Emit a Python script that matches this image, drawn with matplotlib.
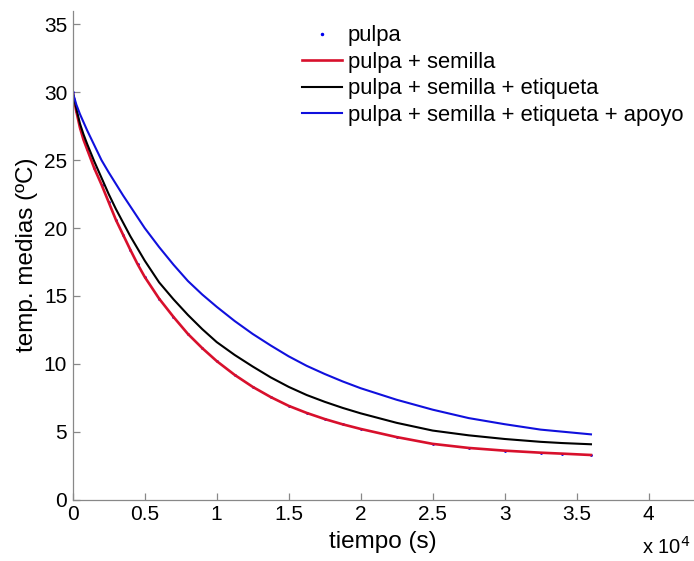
import matplotlib
matplotlib.use("Agg")
import matplotlib.pyplot as plt
from matplotlib.ticker import FixedLocator, FixedFormatter

# tiempo (s) and mean temperatures (ºC)
tiempo = [0, 250, 500, 750, 1000, 1500, 2000, 2500, 3000, 3500, 4000, 4500,
          5000, 6000, 7000, 8000, 9000, 10000, 11250, 12500, 13750, 15000,
          16250, 17500, 18750, 20000, 22500, 25000, 27500, 30000, 32500,
          34000, 36000]
pulpa = [30.0, 28.6, 27.4, 26.5, 25.8, 24.4, 23.2, 21.9, 20.6, 19.5, 18.4, 17.35,
         16.4, 14.8, 13.45, 12.2, 11.15, 10.2, 9.18, 8.3, 7.55, 6.9,
         6.38, 5.93, 5.54, 5.2, 4.6, 4.1, 3.8, 3.6, 3.45,
         3.38, 3.28]
pulpa_semilla = [30.0, 28.6, 27.4, 26.5, 25.8, 24.4, 23.2, 21.9, 20.6, 19.5, 18.4, 17.35,
                 16.4, 14.8, 13.45, 12.2, 11.15, 10.2, 9.18, 8.3, 7.55, 6.9,
                 6.38, 5.93, 5.54, 5.2, 4.6, 4.1, 3.8, 3.6, 3.45,
                 3.38, 3.28]
pulpa_semilla_etiqueta = [30.0, 28.8, 27.7, 26.9, 26.2, 24.9, 23.7, 22.5, 21.4, 20.4, 19.4, 18.5,
                          17.6, 16.0, 14.75, 13.6, 12.55, 11.6, 10.65, 9.8, 9.0, 8.3,
                          7.7, 7.2, 6.75, 6.35, 5.65, 5.08, 4.73, 4.46, 4.25,
                          4.16, 4.07]
pulpa_semilla_etiqueta_apoyo = [30.0, 29.1, 28.4, 27.8, 27.2, 26.1, 25.0, 24.1, 23.25, 22.4, 21.6, 20.8,
                                20.0, 18.6, 17.3, 16.1, 15.1, 14.2, 13.15, 12.2, 11.35, 10.55,
                                9.85, 9.25, 8.7, 8.2, 7.35, 6.62, 6.0, 5.55, 5.15,
                                5.0, 4.8]

labels = ["pulpa", "pulpa + semilla", "pulpa + semilla + etiqueta",
          "pulpa + semilla + etiqueta + apoyo"]

x_ticks = [0, 5000, 10000, 15000, 20000, 25000, 30000, 35000, 40000]
x_tick_labels = ["0", "0.5", "1", "1.5", "2", "2.5", "3", "3.5", "4"]
y_ticks = [0, 5, 10, 15, 20, 25, 30, 35]

plt.rcParams["font.family"] = ["Liberation Sans", "DejaVu Sans"]

fig = plt.figure(figsize=(6.94, 5.61), dpi=100)
ax = fig.add_axes([0.1048, 0.1096, 0.894, 0.871])

ax.plot(tiempo, pulpa, ".", color="#0000ee", markersize=2, label=labels[0])
ax.plot(tiempo, pulpa_semilla, "-", color="#d8102c", linewidth=1.9, label=labels[1])
ax.plot(tiempo, pulpa_semilla_etiqueta, "-", color="black", linewidth=1.5, label=labels[2])
ax.plot(tiempo, pulpa_semilla_etiqueta_apoyo, "-", color="#1010dd", linewidth=1.5, label=labels[3])

ax.set_xlim(0, 43100)
ax.set_ylim(0, 36)
ax.xaxis.set_major_locator(FixedLocator(x_ticks))
ax.xaxis.set_major_formatter(FixedFormatter(x_tick_labels))
ax.set_yticks(y_ticks)

for side in ["top", "right"]:
    ax.spines[side].set_visible(False)
for side in ["left", "bottom"]:
    ax.spines[side].set_color("#888888")
    ax.spines[side].set_linewidth(0.9)
ax.tick_params(direction="in", length=5, width=0.9, color="#888888",
               labelsize=15, labelcolor="black", pad=4)

ax.set_xlabel("tiempo (s)", fontsize=17.5, labelpad=5)
ax.set_ylabel("temp. medias (ºC)", fontsize=17.5, labelpad=4)
ax.text(0.995, -0.097, r"x 10$^{4}$", transform=ax.transAxes,
        ha="right", va="center", fontsize=14.5)

fig.legend(loc="upper left", bbox_to_anchor=(0.435, 0.955), frameon=False,
           fontsize=15.8, handlelength=1.85, handletextpad=0.25, labelspacing=0.25,
           borderpad=0, borderaxespad=0, markerscale=1.5)

fig.savefig("out.png", dpi=100)
